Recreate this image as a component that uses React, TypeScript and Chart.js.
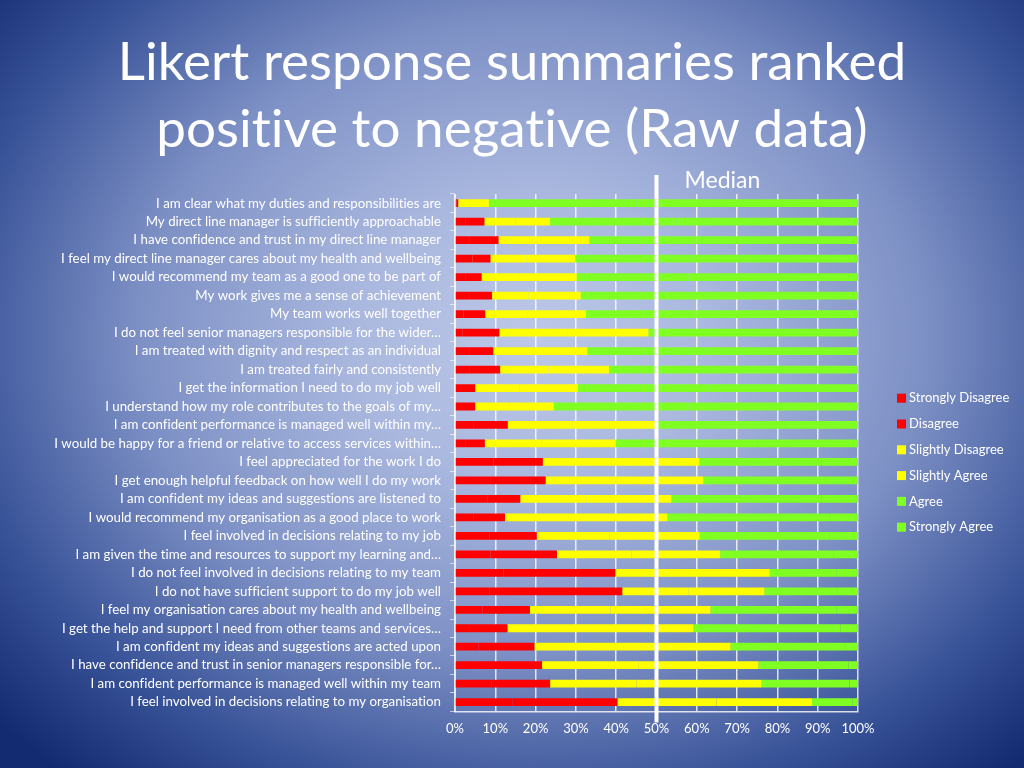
import React, { useEffect, useRef } from "react";
import { Chart, registerables } from "chart.js";

Chart.register(...registerables);

const categories: string[] = [
  "I am clear what my duties and responsibilities are",
  "My direct line manager is sufficiently approachable",
  "I have confidence and trust in my direct line manager",
  "I feel my direct line manager cares about my health and wellbeing",
  "I would recommend my team as a good one to be part of",
  "My work gives me a sense of achievement",
  "My team works well together",
  "I do not feel senior managers responsible for the wider…",
  "I am treated with dignity and respect as an individual",
  "I am treated fairly and consistently",
  "I get the information I need to do my job well",
  "I understand how my role contributes to the goals of my…",
  "I am confident performance is managed well within my…",
  "I would be happy for a friend or relative to access services within…",
  "I feel appreciated for the work I do",
  "I get enough helpful feedback on how well I do my work",
  "I am confident my ideas and suggestions are listened to",
  "I would recommend my organisation as a good place to work",
  "I feel involved in decisions relating to my job",
  "I am given the time and resources to support my learning and…",
  "I do not feel involved in decisions relating to my team",
  "I do not have sufficient support to do my job well",
  "I feel my organisation cares about my health and wellbeing",
  "I get the help and support I need from other teams and services…",
  "I am confident my ideas and suggestions are acted upon",
  "I have confidence and trust in senior managers responsible for…",
  "I am confident performance is managed well within my team",
  "I feel involved in decisions relating to my organisation",
];

const stronglyDisagree: number[] = [0.4, 2.7, 3.7, 4.3, 2.5, 3.7, 2.1, 1.8, 3.7, 3.7, 1.5, 1.5, 4.5, 2.5, 9.5, 8.7, 8.0, 4.5, 8.5, 8.8, 12.0, 8.5, 6.8, 3.7, 5.8, 7.7, 9.0, 14.3];
const disagree: number[] = [0.4, 4.6, 7.1, 4.5, 4.1, 5.5, 5.4, 9.2, 5.8, 7.5, 3.5, 3.5, 8.6, 4.9, 12.3, 13.8, 8.2, 7.9, 11.8, 16.5, 27.8, 33.0, 11.8, 9.3, 13.9, 13.9, 14.6, 26.0];
const slightlyDisagree: number[] = [2.7, 7.7, 9.5, 9.0, 9.5, 9.0, 10.5, 17.0, 10.0, 12.0, 11.0, 8.5, 16.0, 14.0, 17.0, 17.5, 16.5, 17.5, 18.0, 18.5, 18.5, 16.5, 20.0, 21.0, 22.0, 24.0, 21.4, 24.6];
const slightlyAgree: number[] = [4.9, 8.6, 13.0, 12.0, 14.1, 13.0, 14.5, 20.0, 13.3, 15.0, 14.5, 11.0, 20.6, 18.4, 21.8, 21.6, 21.0, 22.8, 22.4, 22.0, 19.8, 18.8, 24.8, 25.2, 26.7, 29.7, 31.1, 23.7];
const agree: number[] = [36.6, 31.4, 26.7, 29.2, 27.8, 32.8, 27.5, 27.0, 30.2, 32.8, 32.5, 33.5, 32.3, 35.2, 30.4, 30.4, 37.3, 40.3, 32.3, 28.2, 16.5, 18.2, 31.2, 36.4, 28.6, 22.3, 21.8, 10.1];
const stronglyAgree: number[] = [55.0, 45.0, 40.0, 41.0, 42.0, 36.0, 40.0, 25.0, 37.0, 29.0, 37.0, 42.0, 18.0, 25.0, 9.0, 8.0, 9.0, 7.0, 7.0, 6.0, 5.4, 5.0, 5.4, 4.4, 3.0, 2.4, 2.1, 1.3];

const seriesNames: string[] = ["Strongly Disagree", "Disagree", "Slightly Disagree", "Slightly Agree", "Agree", "Strongly Agree"];
const seriesColors: string[] = ["#ff0000", "#ff0000", "#ffff00", "#ffff00", "#80ff22", "#80ff22"];

const xTickValues: number[] = [0, 10, 20, 30, 40, 50, 60, 70, 80, 90, 100];
const medianValue = 50;
const medianLabel = "Median";
const titleLines: string[] = ["Likert response summaries ranked", "positive to negative (Raw data)"];

const FONT = "Lato, 'Open Sans', 'DejaVu Sans', sans-serif";

const noLigaturePlugin = {
  id: "noLigatures",
  beforeDraw(chart: any) {
    const ctx: any = chart.ctx;
    if ("textRendering" in ctx) ctx.textRendering = "optimizeSpeed";
    if ("fontVariantLigatures" in ctx) ctx.fontVariantLigatures = "none";
  },
};

const titlePlugin = {
  id: "slideTitle",
  afterDraw(chart: any) {
    const ctx: any = chart.ctx;
    ctx.save();
    if ("textRendering" in ctx) ctx.textRendering = "optimizeSpeed";
    ctx.fillStyle = "#ffffff";
    ctx.font = `53px ${FONT}`;
    ctx.textAlign = "center";
    ctx.textBaseline = "alphabetic";
    const cx = chart.width / 2;
    ctx.fillText(titleLines[0], cx, 80);
    ctx.fillText(titleLines[1], cx, 147);
    ctx.restore();
  },
};

const medianPlugin = {
  id: "medianLine",
  afterDatasetsDraw(chart: any) {
    const { ctx, chartArea, scales } = chart;
    const x = scales.x.getPixelForValue(medianValue);
    ctx.save();
    ctx.strokeStyle = "#ffffff";
    ctx.lineWidth = 4;
    ctx.beginPath();
    ctx.moveTo(x, chartArea.top - 19);
    ctx.lineTo(x, chartArea.bottom + 11);
    ctx.stroke();
    ctx.fillStyle = "#ffffff";
    ctx.font = `23px ${FONT}`;
    ctx.textAlign = "left";
    ctx.textBaseline = "middle";
    ctx.fillText(medianLabel, x + 28, chartArea.top - 13);
    ctx.restore();
  },
};

const legendPlugin = {
  id: "sideLegend",
  afterDraw(chart: any) {
    const { ctx, chartArea } = chart;
    const datasets = chart.data.datasets;
    const spacing = 25.8;
    const mid = (chartArea.top + chartArea.bottom) / 2 + 10;
    const x0 = chartArea.right + 39;
    ctx.save();
    ctx.font = `13px ${FONT}`;
    ctx.textAlign = "left";
    ctx.textBaseline = "middle";
    datasets.forEach((ds: any, i: number) => {
      const y = mid + (i - (datasets.length - 1) / 2) * spacing;
      ctx.fillStyle = ds.backgroundColor;
      ctx.fillRect(x0, y - 4.5, 9, 9);
      ctx.fillStyle = "#ffffff";
      ctx.fillText(ds.label, x0 + 12, y);
    });
    ctx.restore();
  },
};

export default function App() {
  const canvasRef = useRef<HTMLCanvasElement | null>(null);

  useEffect(() => {
    if (!canvasRef.current) return;
    const seriesValues = [stronglyDisagree, disagree, slightlyDisagree, slightlyAgree, agree, stronglyAgree];
    const chart = new Chart(canvasRef.current, {
      type: "bar",
      data: {
        labels: categories,
        datasets: seriesNames.map((name, i) => ({
          label: name,
          data: seriesValues[i],
          backgroundColor: seriesColors[i],
          borderWidth: 0,
          barPercentage: 0.42,
          categoryPercentage: 1.0,
        })),
      },
      options: {
        indexAxis: "y",
        responsive: false,
        animation: false,
        devicePixelRatio: 1,
        layout: { padding: { left: 0, right: 166, top: 194, bottom: 21 } },
        plugins: {
          legend: { display: false },
          tooltip: { enabled: false },
          title: { display: false },
        },
        scales: {
          x: {
            stacked: true,
            min: 0,
            max: 100,
            afterBuildTicks: (scale: any) => {
              scale.ticks = xTickValues.map((v) => ({ value: v }));
            },
            ticks: {
              color: "#ffffff",
              font: { family: FONT, size: 13 },
              padding: 10,
              callback: (v: any) => `${v}%`,
            },
            grid: {
              color: "rgba(255,255,255,0.8)",
              lineWidth: 1.5,
              drawTicks: false,
            },
            border: { display: true, color: "rgba(255,255,255,0.8)", width: 1.5 },
          },
          y: {
            stacked: true,
            afterFit: (scale: any) => {
              scale.width = 455;
            },
            ticks: {
              color: "#ffffff",
              font: { family: FONT, size: 13.3 },
              padding: 9,
              autoSkip: false,
            },
            grid: {
              display: true,
              drawOnChartArea: false,
              drawTicks: true,
              tickLength: 5,
              color: "rgba(255,255,255,0.6)",
              offset: true,
            },
            border: { display: true, color: "rgba(255,255,255,0.7)" },
          },
        },
      },
      plugins: [noLigaturePlugin, medianPlugin, legendPlugin, titlePlugin],
    });
    return () => chart.destroy();
  }, []);

  return (
    <div
      style={{
        position: "fixed",
        left: 0,
        top: 0,
        width: 1024,
        height: 768,
        background:
          "radial-gradient(ellipse 70% 75% at 52% 44%, #bdc8e7 0%, #aab8df 25%, #7d90c5 55%, #3a5499 80%, #132b70 100%)",
      }}
    >
      <canvas ref={canvasRef} width={1024} height={768} style={{ width: 1024, height: 768, display: "block" }} />
    </div>
  );
}
